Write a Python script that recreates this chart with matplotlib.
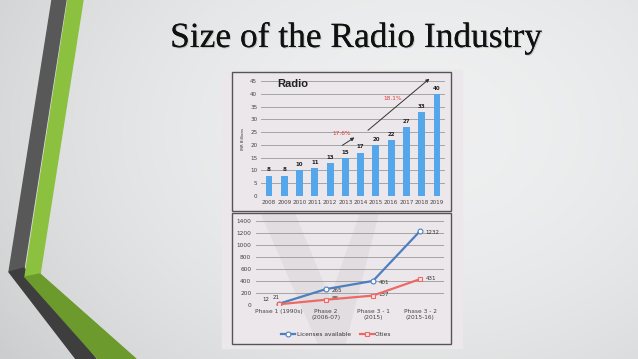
import numpy as np
import matplotlib.pyplot as plt
import matplotlib.patheffects as pe
from matplotlib.patches import Polygon, Rectangle

# bar chart data (INR billions)
years = ['2008', '2009', '2010', '2011', '2012', '2013', '2014', '2015', '2016', '2017', '2018', '2019']
revenue = [8, 8, 10, 11, 13, 15, 17, 20, 22, 27, 33, 40]

# line chart data
phases = ['Phase 1 (1990s)', 'Phase 2\n(2006-07)', 'Phase 3 - 1\n(2015)', 'Phase 3 - 2\n(2015-16)']
licenses = [21, 265, 401, 1232]
cities = [12, 88, 157, 431]

W, H = 638, 359
fig = plt.figure(figsize=(W / 100, H / 100), dpi=100)

# slide background
bg = fig.add_axes([0, 0, 1, 1])
bg.set_xlim(0, W)
bg.set_ylim(H, 0)
bg.axis('off')
gx, gy = np.meshgrid(np.linspace(0, W, W), np.linspace(0, H, H))
r2 = ((gx - 420) / 450) ** 2 + ((gy - 130) / 330) ** 2
shade = 0.935 - 0.1 * r2
bg.imshow(np.dstack([shade, shade + 0.003, shade + 0.006]).clip(0, 1), extent=[0, W, H, 0],
          aspect='auto', interpolation='bilinear', zorder=0)

# left stripes
bg.add_patch(Polygon([(52, 0), (66, 0), (24, 268), (9, 272)], closed=True, color='#585858', zorder=1))
bg.add_patch(Polygon([(9, 272), (24, 268), (96, 359), (76, 359)], closed=True, color='#3e3e3e', zorder=1))
bg.add_patch(Polygon([(68, 0), (83, 0), (40, 274), (25, 277)], closed=True, color='#8cc13f', zorder=1))
bg.add_patch(Polygon([(25, 277), (40, 274), (136, 359), (98, 359)], closed=True, color='#6c9a2c', zorder=1))

# title
bg.text(356, 47, 'Size of the Radio Industry', family='Liberation Serif', fontsize=25.5,
        ha='center', va='baseline', color='#111111', zorder=3,
        path_effects=[pe.withSimplePatchShadow(offset=(0.8, -0.8), shadow_rgbFace='#999999', alpha=0.45),
                      pe.Normal()])

# pasted picture panel and boxes
bg.add_patch(Rectangle((222, 70), 240, 278, color='#ece7eb', zorder=2))
bg.add_patch(Rectangle((232, 72), 219, 139, fill=False, ec='#555555', lw=1, zorder=3))
bg.add_patch(Rectangle((232, 213), 219, 131, fill=False, ec='#555555', lw=1, zorder=3))
# faint watermark
bg.add_patch(Polygon([(262, 215), (295, 215), (330, 300), (360, 215), (378, 215), (345, 343), (318, 343)],
                     closed=True, color='#e2dde1', zorder=2))

# bar chart
ax1 = fig.add_axes([261.4 / W, 1 - 196 / H, 183.2 / W, 115 / H])
ax1.patch.set_alpha(0)
x = np.arange(len(years))
ax1.bar(x, revenue, width=0.45, color='#55a6ea', zorder=3)
for xi, v in zip(x, revenue):
    ax1.text(xi, v + 1.2, str(v), ha='center', va='bottom', fontsize=4, fontweight='bold', color='#222222')
ax1.set_xlim(-0.5, 11.5)
ax1.set_ylim(0, 45)
ax1.set_yticks(range(0, 46, 5))
ax1.set_xticks(x)
ax1.set_xticklabels(years)
ax1.grid(axis='y', color='#9a9a9a', lw=0.6)
ax1.set_axisbelow(True)
for s in ax1.spines.values():
    s.set_visible(False)
ax1.tick_params(length=0, labelsize=4.1, labelcolor='#444444', pad=3)
ax1.set_ylabel('INR Billions', fontsize=2.8, color='#333333', labelpad=4)
ax1.text(0.55, 42.5, 'Radio', fontsize=8, fontweight='bold', color='#222222', family='Liberation Sans')
ax1.annotate('', xy=(5.75, 23.5), xytext=(4.64, 19.2),
             arrowprops=dict(arrowstyle='-|>', color='#333333', lw=0.7, mutation_scale=5))
ax1.annotate('', xy=(10.65, 46.6), xytext=(6.34, 25.0), annotation_clip=False,
             arrowprops=dict(arrowstyle='-|>', color='#333333', lw=0.7, mutation_scale=5, clip_on=False))
ax1.text(4.77, 24.3, '17.6%', fontsize=4.2, color='#e03a3a', ha='center', va='center')
ax1.text(8.1, 38.3, '18.1%', fontsize=4.2, color='#e03a3a', ha='center', va='center')

# line chart
ax2 = fig.add_axes([255.5 / W, 1 - 305 / H, 188 / W, 84 / H])
ax2.patch.set_alpha(0)
px = np.arange(len(phases))
ax2.plot(px, licenses, color='#4d7fc0', lw=1.6, marker='o', ms=3.5, mfc='white', mec='#4d7fc0',
         mew=0.8, label='Licenses available', zorder=4)
ax2.plot(px, cities, color='#ec6a66', lw=1.6, marker='s', ms=3.5, mfc='#fbe3e2', mec='#ec6a66',
         mew=0.8, label='Cities', zorder=4)
ax2.set_xlim(-0.5, 3.5)
ax2.set_ylim(0, 1400)
ax2.set_yticks(range(0, 1401, 200))
ax2.set_xticks(px)
ax2.set_xticklabels(phases)
ax2.grid(axis='y', color='#9a9a9a', lw=0.6)
ax2.set_axisbelow(True)
for s in ax2.spines.values():
    s.set_visible(False)
ax2.tick_params(length=0, labelsize=4.2, labelcolor='#444444', pad=3)
ax2.text(px[0] - 0.05, licenses[0] + 70, str(licenses[0]), fontsize=4, color='#333333', ha='center', va='bottom')
ax2.text(px[0] - 0.28, cities[0] + 30, str(cities[0]), fontsize=4, color='#333333', ha='center', va='bottom')
for i in range(1, 4):
    ax2.text(px[i] + 0.12, licenses[i] - 20, str(licenses[i]), fontsize=4, color='#333333', va='center')
    ax2.text(px[i] + 0.12, cities[i] + 15, str(cities[i]), fontsize=4, color='#333333', va='center')
ax2.legend(loc='upper center', bbox_to_anchor=(0.43, -0.26), ncol=2, frameon=False, fontsize=4.2,
           handlelength=2.4, columnspacing=1.5, handletextpad=0.2, labelcolor='#333333')

fig.savefig('out.png', dpi=100)
